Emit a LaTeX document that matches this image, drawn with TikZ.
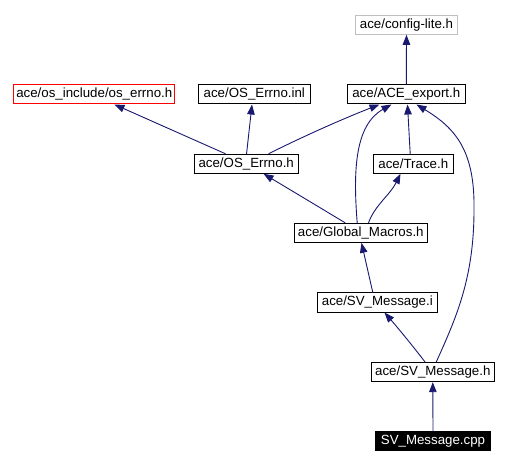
\documentclass[tikz,border=0pt]{standalone}
\usepackage{fontspec}
\setmainfont{Liberation Sans}
\usetikzlibrary{arrows.meta,calc}
\definecolor{edgeblue}{HTML}{191970}
\definecolor{graybox}{HTML}{BFBFBF}
\tikzset{
  box/.style={draw=black, line width=1pt, inner sep=0pt, minimum height=19pt, font=\fontsize{13.3}{16}\selectfont},
  edge/.style={draw=edgeblue, line width=0.9pt, -{Triangle[length=10pt,width=7.5pt]}},
}
\begin{document}
\begin{tikzpicture}[x=1pt,y=-1pt]
\useasboundingbox (0,0) rectangle (517,465);
\node[box, draw=graybox, minimum width=101.6pt] (config) at (406.5,24.8) {ace/config-lite.h};
\node[box, draw=red, minimum width=160.7pt] (oserr) at (94.3,94.5) {ace/os\_include/os\_errno.h};
\node[box, minimum width=112pt] (inl) at (254.3,94.5) {ace/OS\_Errno.inl};
\node[box, minimum width=118pt] (export) at (406.3,94.5) {ace/ACE\_export.h};
\node[box, minimum width=103.7pt] (oserrh) at (246.2,163.8) {ace/OS\_Errno.h};
\node[box, minimum width=80pt] (trace) at (413.3,163.8) {ace/Trace.h};
\node[box, minimum width=133pt] (global) at (360.8,232.8) {ace/Global\_Macros.h};
\node[box, minimum width=120pt] (svi) at (377.3,302.5) {ace/SV\_Message.i};
\node[box, minimum width=123pt] (svh) at (432.8,372.2) {ace/SV\_Message.h};
\node[box, fill=black, text=white, minimum width=115.4pt] (cpp) at (433,441.2) {SV\_Message.cpp};

\draw[edge] (export.north) -- (config.south);
\draw[edge] ($(oserrh.north west)+(31.7,0)$) -- ($(oserr.south west)+(101,0)$);
\draw[edge] ($(oserrh.north west)+(52.7,0)$) -- ($(inl.south west)+(54.2,0)$);
\draw[edge] ($(oserrh.north west)+(74.7,0)$) .. controls (310,133) and (350,116) .. ($(export.south west)+(32.7,0)$);
\draw[edge] ($(global.north west)+(63.4,0)$) .. controls (353,170) and (355,125) .. ($(export.south west)+(44.7,0)$);
\draw[edge] ($(trace.north west)+(37.4,0)$) -- ($(export.south west)+(60.7,0)$);
\draw[edge] ($(svh.north west)+(65.4,0)$) .. controls (455,320) and (474,280) .. (474,210) .. controls (475,150) and (455,128) .. ($(export.south west)+(69.7,0)$);
\draw[edge] ($(global.north west)+(51.4,0)$) -- ($(oserrh.south west)+(69.7,0)$);
\draw[edge] ($(global.north west)+(74.7,0)$) .. controls (375,205) and (390,195) .. ($(trace.south west)+(27.7,0)$);
\draw[edge] ($(svi.north west)+(56,0)$) -- ($(global.south west)+(67.7,0)$);
\draw[edge] ($(svh.north west)+(54.4,0)$) .. controls (412,345) and (398,328) .. ($(svi.south west)+(67.7,0)$);
\draw[edge] (cpp.north) -- (svh.south);
\end{tikzpicture}
\end{document}
